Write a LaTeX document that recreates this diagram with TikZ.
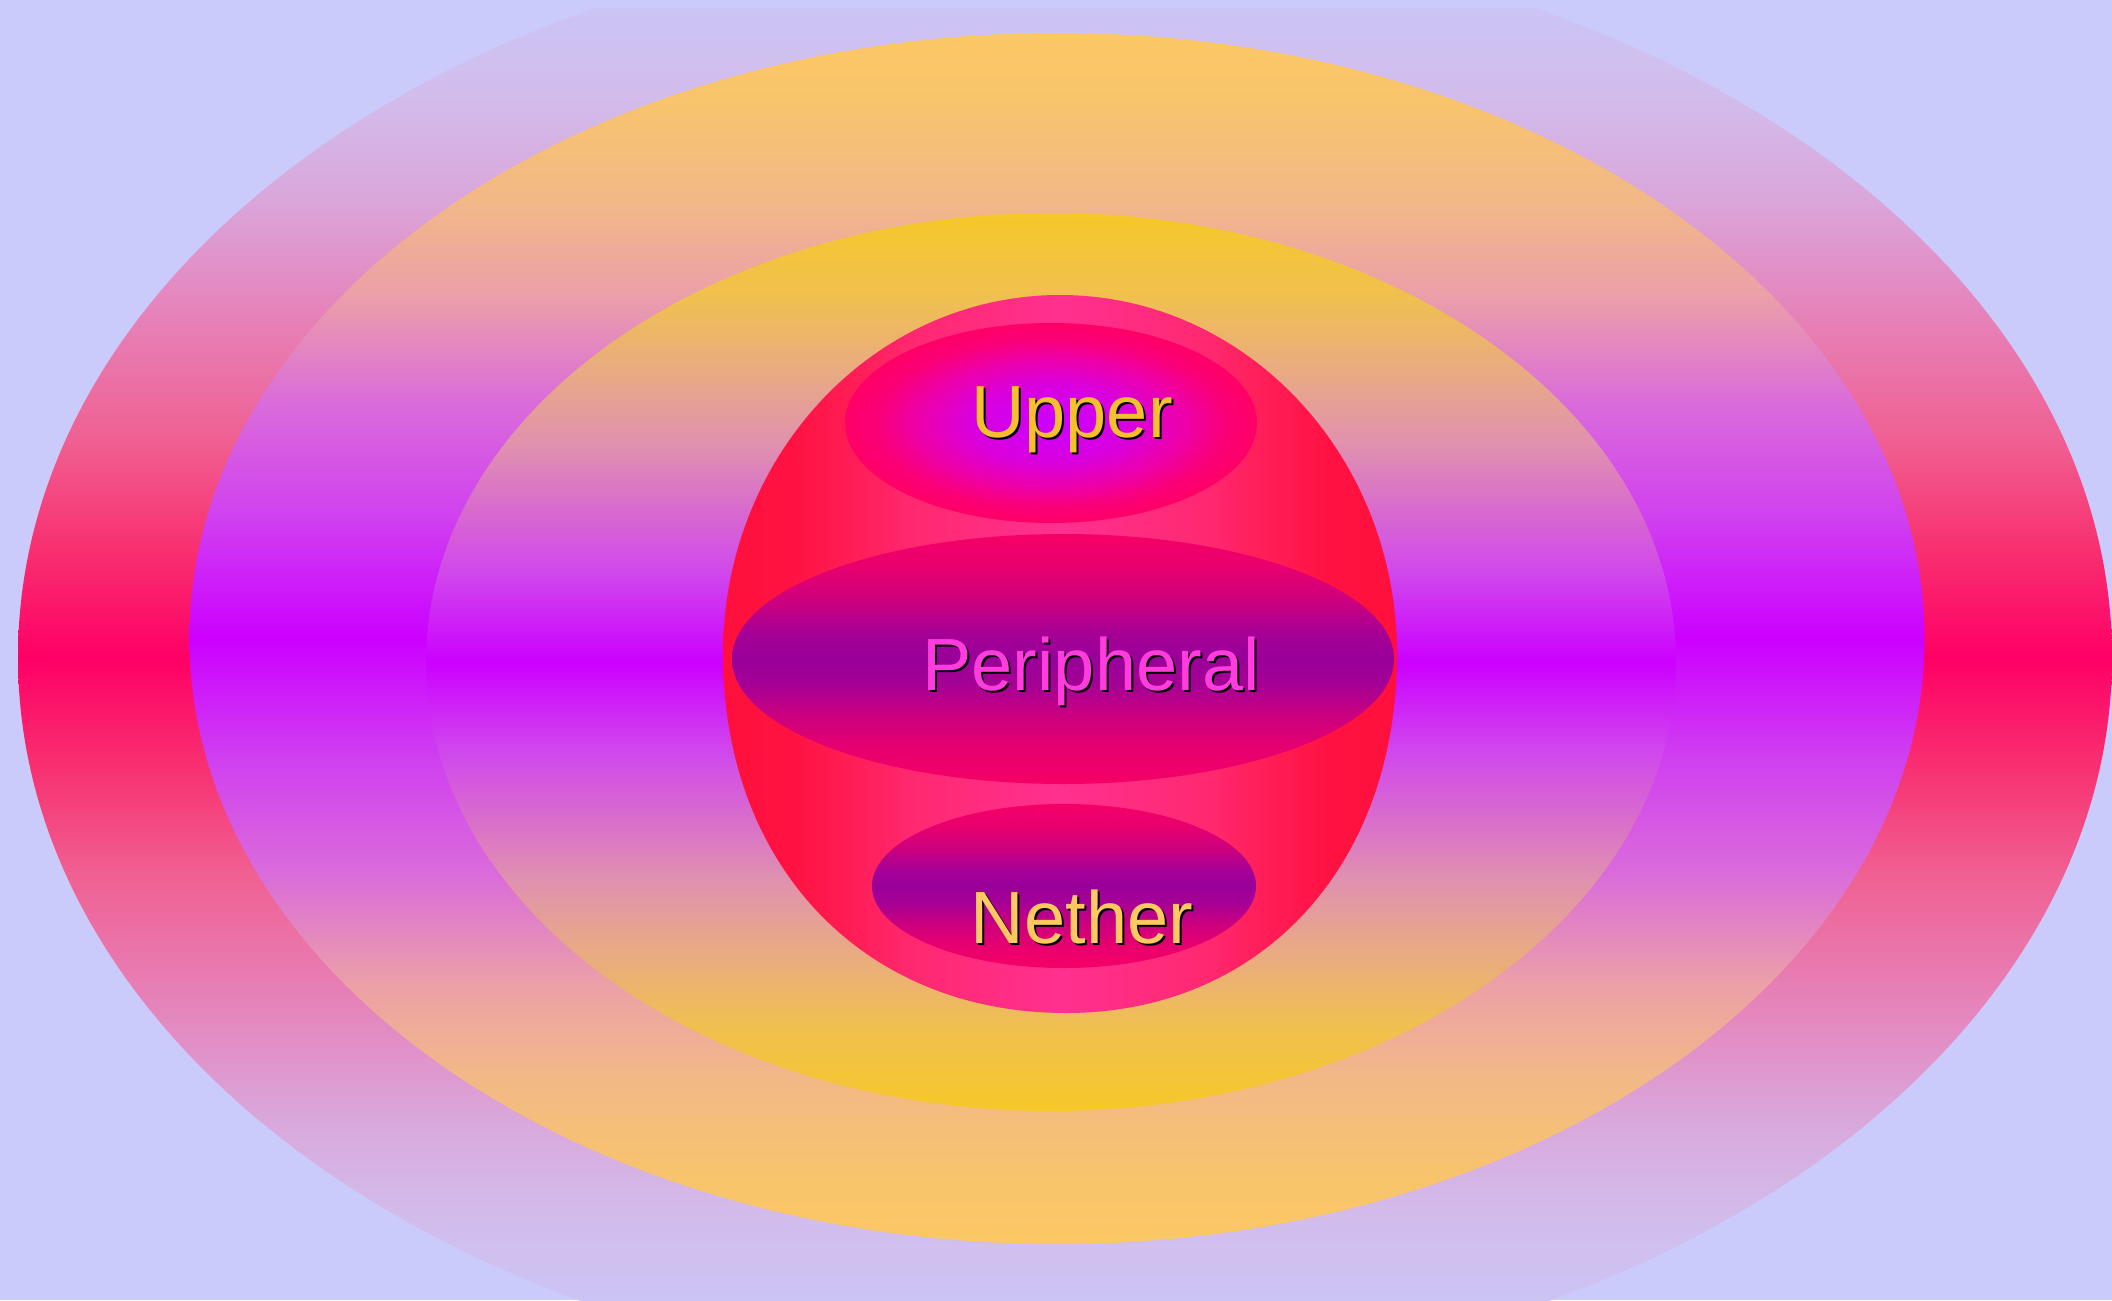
\documentclass[tikz,border=0pt]{standalone}
\usepackage{fontspec}
\setmainfont{Liberation Sans}
% colours
\definecolor{bg}{RGB}{203,203,251}
\definecolor{o0}{RGB}{255,0,102}
\definecolor{o1}{RGB}{248,48,112}
\definecolor{o2}{RGB}{240,96,146}
\definecolor{o3}{RGB}{228,136,192}
\definecolor{o4}{RGB}{218,166,218}
\definecolor{o5}{RGB}{210,188,236}
\definecolor{o6}{RGB}{204,196,244}
\definecolor{o7}{RGB}{203,203,251}
\definecolor{s0}{RGB}{204,0,255}
\definecolor{s1}{RGB}{208,64,240}
\definecolor{s2}{RGB}{218,108,218}
\definecolor{s3}{RGB}{236,160,168}
\definecolor{s4}{RGB}{242,184,136}
\definecolor{s5}{RGB}{248,196,108}
\definecolor{s6}{RGB}{252,200,100}
\definecolor{t0}{RGB}{204,0,255}
\definecolor{t1}{RGB}{208,72,236}
\definecolor{t2}{RGB}{216,104,208}
\definecolor{t3}{RGB}{224,144,176}
\definecolor{t4}{RGB}{232,168,136}
\definecolor{t5}{RGB}{240,192,80}
\definecolor{t6}{RGB}{246,200,40}
\definecolor{h0}{RGB}{255,48,144}
\definecolor{h1}{RGB}{255,40,112}
\definecolor{h2}{RGB}{255,28,84}
\definecolor{h3}{RGB}{255,18,66}
\definecolor{h4}{RGB}{255,16,60}
\definecolor{u0}{RGB}{204,0,255}
\definecolor{u1}{RGB}{218,0,220}
\definecolor{u2}{RGB}{238,0,165}
\definecolor{u3}{RGB}{250,0,120}
\definecolor{u4}{RGB}{255,0,102}
\definecolor{p0}{RGB}{153,0,153}
\definecolor{p1}{RGB}{165,0,150}
\definecolor{p2}{RGB}{205,0,125}
\definecolor{p3}{RGB}{232,0,110}
\definecolor{p4}{RGB}{245,0,102}
\definecolor{uppertxt}{RGB}{245,192,48}
\definecolor{periphtxt}{RGB}{255,60,220}
\definecolor{nethertxt}{RGB}{255,200,96}
% shadings
\pgfdeclareverticalshading{outershade}{100bp}{color(0bp)=(o7); color(25bp)=(o7); color(27.75bp)=(o6); color(30.75bp)=(o5); color(34.25bp)=(o4); color(37.5bp)=(o3); color(42.5bp)=(o2); color(46.25bp)=(o1); color(50bp)=(o0); color(53.75bp)=(o1); color(57.5bp)=(o2); color(62.5bp)=(o3); color(65.75bp)=(o4); color(69.25bp)=(o5); color(72.25bp)=(o6); color(75bp)=(o7); color(100bp)=(o7)}
\pgfdeclareverticalshading{secondshade}{100bp}{color(0bp)=(s6); color(25bp)=(s6); color(27.75bp)=(s5); color(32bp)=(s4); color(35.75bp)=(s3); color(40.25bp)=(s2); color(45bp)=(s1); color(50bp)=(s0); color(55bp)=(s1); color(59.75bp)=(s2); color(64.25bp)=(s3); color(68bp)=(s4); color(72.25bp)=(s5); color(75bp)=(s6); color(100bp)=(s6)}
\pgfdeclareverticalshading{thirdshade}{100bp}{color(0bp)=(t6); color(25bp)=(t6); color(29.75bp)=(t5); color(34.25bp)=(t4); color(38bp)=(t3); color(41.75bp)=(t2); color(45bp)=(t1); color(50bp)=(t0); color(55bp)=(t1); color(58.25bp)=(t2); color(62bp)=(t3); color(65.75bp)=(t4); color(70.25bp)=(t5); color(75bp)=(t6); color(100bp)=(t6)}
\pgfdeclarehorizontalshading{sphereshade}{100bp}{color(0bp)=(h4); color(25bp)=(h4); color(30bp)=(h3); color(34.25bp)=(h2); color(39bp)=(h1); color(50bp)=(h0); color(61bp)=(h1); color(65.75bp)=(h2); color(70bp)=(h3); color(75bp)=(h4); color(100bp)=(h4)}
\pgfdeclareradialshading{uppershade}{\pgfpoint{0bp}{0bp}}{color(0bp)=(u0); color(10bp)=(u1); color(16.5bp)=(u2); color(21bp)=(u3); color(25bp)=(u4); color(50bp)=(u4)}
\pgfdeclareverticalshading{bandshade}{100bp}{color(0bp)=(p4); color(25bp)=(p4); color(31.5bp)=(p3); color(38.25bp)=(p2); color(45bp)=(p1); color(50bp)=(p0); color(55bp)=(p1); color(61.75bp)=(p2); color(68.5bp)=(p3); color(75bp)=(p4); color(100bp)=(p4)}
\begin{document}
\begin{tikzpicture}[x=0.5pt,y=-0.5pt,
  lbl/.style={font=\fontsize{37}{44}\selectfont, inner sep=0pt, anchor=base},
  shadowlbl/.style={lbl, text=black}]
\useasboundingbox (0,0) rectangle (2112,1300);
\fill[bg] (0,0) rectangle (2112,1300);
% outer halo, cut at the top
\begin{scope}
  \clip (0,9) rectangle (2112,1300);
  \shade[shading=outershade] (1065,657) ellipse [x radius=1047, y radius=726];
\end{scope}
\shade[shading=secondshade] (1057,638.5) ellipse [x radius=867.5, y radius=605.5];
\shade[shading=thirdshade] (1051,662) ellipse [x radius=625, y radius=449];
% sphere: elliptic top half, slightly fuller bottom half
\shade[shading=sphereshade] (723,654)
  arc[start angle=180, end angle=360, x radius=337, y radius=359]
  .. controls (1397,866) and (1261,1013) .. (1066,1013)
  .. controls (864,1013) and (723,866) .. (723,654) -- cycle;
% inner layers
\shade[shading=uppershade] (1051,423) ellipse [x radius=206, y radius=100];
\shade[shading=bandshade] (1063,659) ellipse [x radius=331, y radius=125];
\shade[shading=bandshade] (1064,886) ellipse [x radius=192, y radius=82];
% labels
\node[shadowlbl] (upper shadow) at (1074,439) {Upper};
\node[lbl, text=uppertxt] (upper) at (1072,437) {Upper};
\node[shadowlbl] (peripheral shadow) at (1093,692) {Peripheral};
\node[lbl, text=periphtxt] (peripheral) at (1091,690) {Peripheral};
\node[shadowlbl] (nether shadow) at (1084,945) {Nether};
\node[lbl, text=nethertxt] (nether) at (1082,943) {Nether};
\end{tikzpicture}
\end{document}
